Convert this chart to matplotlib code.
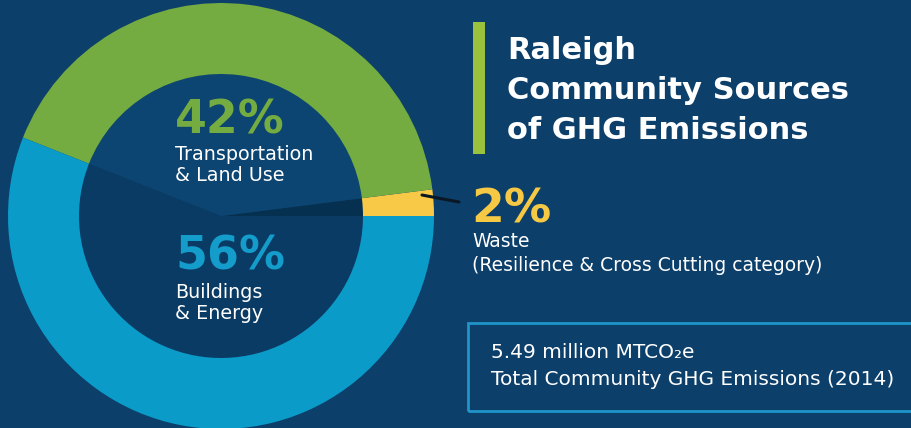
import matplotlib.pyplot as plt
from matplotlib.patches import Rectangle

# data
categories = ['Waste', 'Transportation & Land Use', 'Buildings & Energy']
shares = [2, 42, 56]
ring_colors = ['#f8c947', '#74ac42', '#0b9bc9']
hole_colors = ['#06304f', '#0d4572', '#0a3b64']

bg = '#0c3f6a'
W, H = 911, 428

plt.rcParams['font.family'] = ['DejaVu Sans']

fig = plt.figure(figsize=(W / 100, H / 100), dpi=100)
fig.patch.set_facecolor(bg)
ax = fig.add_axes([0, 0, 1, 1])
ax.set_facecolor(bg)


def py(y):
    # pixel row (from top) -> data y
    return H - y


cx, cy = 221, py(216)

# shaded hole wedges, then the coloured ring
ax.pie(shares, colors=hole_colors, radius=142, center=(cx, cy),
       startangle=0, counterclock=True, frame=True,
       wedgeprops=dict(linewidth=0))
ax.pie(shares, colors=ring_colors, radius=213, center=(cx, cy),
       startangle=0, counterclock=True, frame=True,
       wedgeprops=dict(width=71, linewidth=0))
ax.set_xlim(0, W)
ax.set_ylim(0, H)
ax.set_aspect('equal')
ax.axis('off')

# labels inside the hole
ax.text(175, py(133), f'{shares[1]}%', color='#74ac42', fontsize=33,
        fontweight='bold', va='baseline')
ax.text(175, py(160), 'Transportation', color='white', fontsize=13.8, va='baseline')
ax.text(175, py(181), '& Land Use', color='white', fontsize=13.8, va='baseline')

ax.text(175, py(270), f'{shares[2]}%', color='#149ccb', fontsize=33,
        fontweight='bold', va='baseline')
ax.text(175, py(298), 'Buildings', color='white', fontsize=13.8, va='baseline')
ax.text(175, py(319), '& Energy', color='white', fontsize=13.8, va='baseline')

# waste callout
ax.plot([422, 459], [py(195), py(202)], color='#0a1826', lw=2.2,
        solid_capstyle='round')
ax.text(471, py(222), f'{shares[0]}%', color='#f6c945', fontsize=34,
        fontweight='bold', va='baseline')
ax.text(472, py(247), 'Waste', color='white', fontsize=13.5, va='baseline')
ax.text(472, py(271), '(Resilience & Cross Cutting category)', color='white',
        fontsize=13.5, va='baseline')

# title
ax.add_patch(Rectangle((473, py(154)), 12, 132, color='#99c33c', lw=0))
for i, line in enumerate(['Raleigh', 'Community Sources', 'of GHG Emissions']):
    ax.text(507, py(59 + 40 * i), line, color='white', fontsize=22,
            fontweight='bold', va='baseline')

# total box
ax.add_patch(Rectangle((468, py(411)), 470, 88, fill=False,
                       edgecolor='#1f95c8', lw=2))
ax.text(491, py(358), '5.49 million MTCO\u2082e', color='white', fontsize=14.5,
        va='baseline')
ax.text(491, py(385), 'Total Community GHG Emissions (2014)', color='white',
        fontsize=14.5, va='baseline')

fig.savefig('out.png', dpi=100, facecolor=bg)
